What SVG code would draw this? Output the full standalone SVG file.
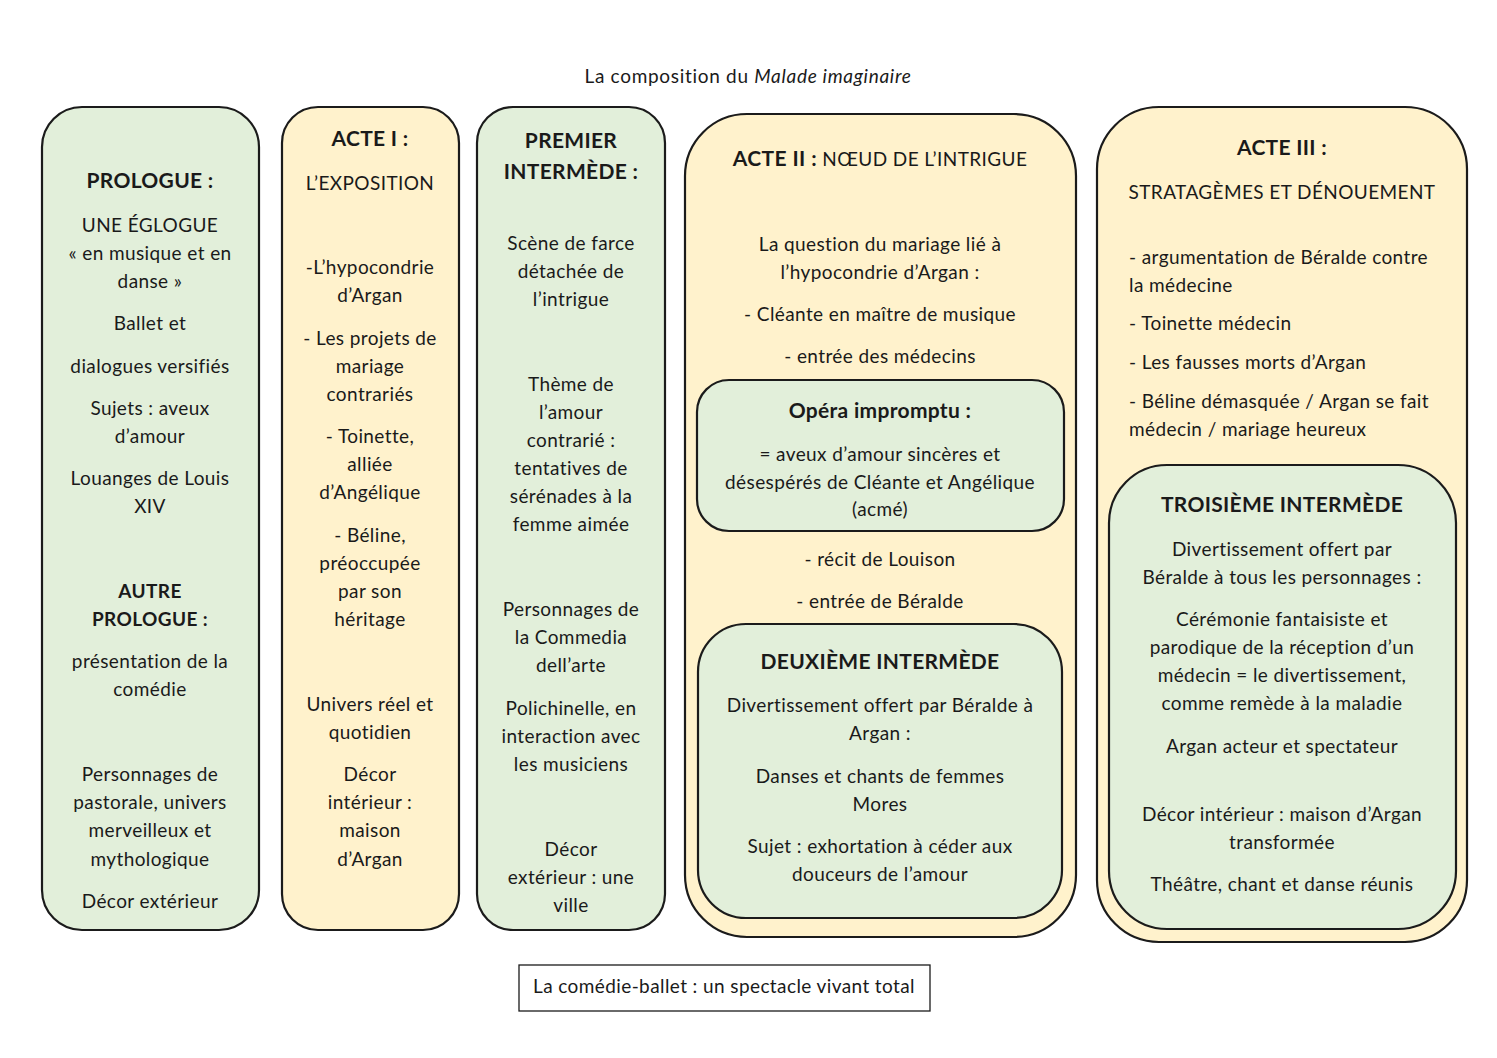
<svg xmlns="http://www.w3.org/2000/svg" width="1497" height="1058" viewBox="0 0 1497 1058">
<style>
.g{fill:#E2EFDA;stroke:#1b1b1b;stroke-width:2.2}
.y{fill:#FFF2CC;stroke:#1b1b1b;stroke-width:2.2}
text{font-family:Lato,"Liberation Sans",sans-serif;font-size:19px;letter-spacing:0.4px;fill:#1a1a1a}
.c{text-anchor:middle}
.b{font-weight:bold;font-size:21px;letter-spacing:0.3px}
.b18{font-weight:bold}
</style>
<rect width="1497" height="1058" fill="#ffffff"/>
<text x="748" y="83" class="c" style="font-size:19px;letter-spacing:0.7px">La composition du <tspan font-style="italic">Malade imaginaire</tspan></text>

<g id="prologue">
<rect class="g" x="42" y="107" width="217" height="823" rx="40"/>
<text class="c b" x="150" y="188">PROLOGUE :</text>
<text class="c" x="150" y="232">UNE ÉGLOGUE</text>
<text class="c" x="150" y="260">« en musique et en</text>
<text class="c" x="150" y="288">danse »</text>
<text class="c" x="150" y="330">Ballet et</text>
<text class="c" x="150" y="373">dialogues versifiés</text>
<text class="c" x="150" y="415">Sujets : aveux</text>
<text class="c" x="150" y="443">d’amour</text>
<text class="c" x="150" y="485">Louanges de Louis</text>
<text class="c" x="150" y="513">XIV</text>
<text class="c b18" x="150" y="598">AUTRE</text>
<text class="c b18" x="150" y="626">PROLOGUE :</text>
<text class="c" x="150" y="668">présentation de la</text>
<text class="c" x="150" y="696">comédie</text>
<text class="c" x="150" y="781">Personnages de</text>
<text class="c" x="150" y="809">pastorale, univers</text>
<text class="c" x="150" y="837">merveilleux et</text>
<text class="c" x="150" y="866">mythologique</text>
<text class="c" x="150" y="908">Décor extérieur</text>
</g>

<g id="acte1">
<rect class="y" x="282" y="107" width="177" height="823" rx="36"/>
<text class="c b" x="370" y="146">ACTE I :</text>
<text class="c" x="370" y="190">L’EXPOSITION</text>
<text class="c" x="370" y="274">-L’hypocondrie</text>
<text class="c" x="370" y="302">d’Argan</text>
<text class="c" x="370" y="345">- Les projets de</text>
<text class="c" x="370" y="373">mariage</text>
<text class="c" x="370" y="401">contrariés</text>
<text class="c" x="370" y="443">- Toinette,</text>
<text class="c" x="370" y="471">alliée</text>
<text class="c" x="370" y="499">d’Angélique</text>
<text class="c" x="370" y="542">- Béline,</text>
<text class="c" x="370" y="570">préoccupée</text>
<text class="c" x="370" y="598">par son</text>
<text class="c" x="370" y="626">héritage</text>
<text class="c" x="370" y="711">Univers réel et</text>
<text class="c" x="370" y="739">quotidien</text>
<text class="c" x="370" y="781">Décor</text>
<text class="c" x="370" y="809">intérieur :</text>
<text class="c" x="370" y="837">maison</text>
<text class="c" x="370" y="866">d’Argan</text>
</g>

<g id="premier-intermede">
<rect class="g" x="477" y="107" width="188" height="823" rx="36"/>
<text class="c b" x="571" y="148">PREMIER</text>
<text class="c b" x="571" y="179">INTERMÈDE :</text>
<text class="c" x="571" y="250">Scène de farce</text>
<text class="c" x="571" y="278">détachée de</text>
<text class="c" x="571" y="306">l’intrigue</text>
<text class="c" x="571" y="391">Thème de</text>
<text class="c" x="571" y="419">l’amour</text>
<text class="c" x="571" y="447">contrarié :</text>
<text class="c" x="571" y="475">tentatives de</text>
<text class="c" x="571" y="503">sérénades à la</text>
<text class="c" x="571" y="531">femme aimée</text>
<text class="c" x="571" y="616">Personnages de</text>
<text class="c" x="571" y="644">la Commedia</text>
<text class="c" x="571" y="672">dell’arte</text>
<text class="c" x="571" y="715">Polichinelle, en</text>
<text class="c" x="571" y="743">interaction avec</text>
<text class="c" x="571" y="771">les musiciens</text>
<text class="c" x="571" y="856">Décor</text>
<text class="c" x="571" y="884">extérieur : une</text>
<text class="c" x="571" y="912">ville</text>
</g>

<g id="acte2">
<rect class="y" x="685" y="114" width="391" height="823" rx="62"/>
<text class="c" x="880" y="166"><tspan font-weight="bold" font-size="21">ACTE II :</tspan> NŒUD DE L’INTRIGUE</text>
<text class="c" x="880" y="251">La question du mariage lié à</text>
<text class="c" x="880" y="279">l’hypocondrie d’Argan :</text>
<text class="c" x="880" y="321">- Cléante en maître de musique</text>
<text class="c" x="880" y="363">- entrée des médecins</text>
<text class="c" x="880" y="566">- récit de Louison</text>
<text class="c" x="880" y="608">- entrée de Béralde</text>
</g>

<g id="opera-impromptu">
<rect class="g" x="697" y="380" width="367" height="151" rx="32"/>
<text class="c b" x="880" y="418">Opéra impromptu :</text>
<text class="c" x="880" y="461">= aveux d’amour sincères et</text>
<text class="c" x="880" y="489">désespérés de Cléante et Angélique</text>
<text class="c" x="880" y="516">(acmé)</text>
</g>

<g id="deuxieme-intermede">
<rect class="g" x="698" y="624" width="364" height="294" rx="48"/>
<text class="c b" x="880" y="669">DEUXIÈME INTERMÈDE</text>
<text class="c" x="880" y="712">Divertissement offert par Béralde à</text>
<text class="c" x="880" y="740">Argan :</text>
<text class="c" x="880" y="783">Danses et chants de femmes</text>
<text class="c" x="880" y="811">Mores</text>
<text class="c" x="880" y="853">Sujet : exhortation à céder aux</text>
<text class="c" x="880" y="881">douceurs de l’amour</text>
</g>

<g id="acte3">
<rect class="y" x="1097" y="107" width="370" height="835" rx="62"/>
<text class="c b" x="1282" y="155">ACTE III :</text>
<text class="c" x="1282" y="199">STRATAGÈMES ET DÉNOUEMENT</text>
<text x="1129" y="264">- argumentation de Béralde contre</text>
<text x="1129" y="292">la médecine</text>
<text x="1129" y="330">- Toinette médecin</text>
<text x="1129" y="369">- Les fausses morts d’Argan</text>
<text x="1129" y="408">- Béline démasquée / Argan se fait</text>
<text x="1129" y="436">médecin / mariage heureux</text>
</g>

<g id="troisieme-intermede">
<rect class="g" x="1109" y="465" width="347" height="464" rx="58"/>
<text class="c b" x="1282" y="512">TROISIÈME INTERMÈDE</text>
<text class="c" x="1282" y="556">Divertissement offert par</text>
<text class="c" x="1282" y="584">Béralde à tous les personnages :</text>
<text class="c" x="1282" y="626">Cérémonie fantaisiste et</text>
<text class="c" x="1282" y="654">parodique de la réception d’un</text>
<text class="c" x="1282" y="682">médecin = le divertissement,</text>
<text class="c" x="1282" y="710">comme remède à la maladie</text>
<text class="c" x="1282" y="753">Argan acteur et spectateur</text>
<text class="c" x="1282" y="821">Décor intérieur : maison d’Argan</text>
<text class="c" x="1282" y="849">transformée</text>
<text class="c" x="1282" y="891">Théâtre, chant et danse réunis</text>
</g>

<g id="conclusion">
<rect x="519" y="965" width="411" height="46" fill="#ffffff" stroke="#1b1b1b" stroke-width="1.3"/>
<text class="c" x="724" y="993">La comédie-ballet : un spectacle vivant total</text>
</g>

<g id="connectors"></g>
</svg>
